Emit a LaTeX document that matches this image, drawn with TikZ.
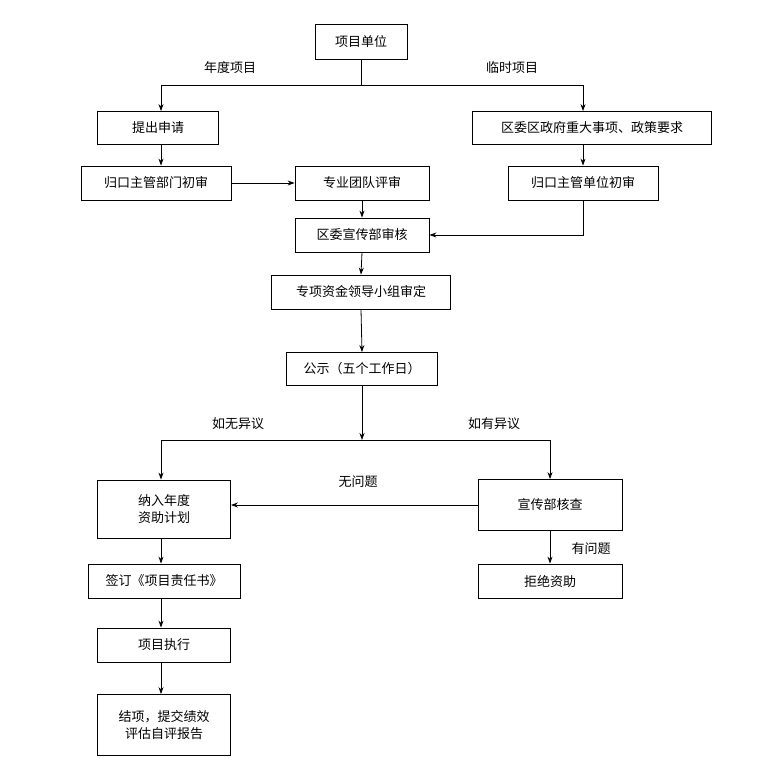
\documentclass[tikz,border=0pt]{standalone}
\usepackage{fontspec}
\setmainfont{Noto Sans CJK SC}
\usetikzlibrary{arrows.meta}
\tikzset{
  box/.style={draw, line width=0.8pt, inner sep=0pt, font=\fontsize{13}{17}\selectfont, align=center},
  flow/.style={draw, line width=0.8pt, -{Stealth[length=7pt,width=5pt]}},
  lbl/.style={font=\fontsize{13}{15}\selectfont}
}
\begin{document}
\begin{tikzpicture}[x=1pt,y=-1pt]
    \useasboundingbox (0,0) rectangle (768,776);

    % Top boxes
    \node[box, minimum width=92pt, minimum height=35pt] (unit) at (361,42) {项目单位};
    \node[box, minimum width=121pt, minimum height=33pt] (apply) at (158,128) {提出申请};
    \node[box, minimum width=239pt, minimum height=33pt] (gov) at (592,128) {区委区政府重大事项、政策要求};
    \node[box, minimum width=150pt, minimum height=34pt] (dept) at (156,183) {归口主管部门初审};
    \node[box, minimum width=134pt, minimum height=34pt] (team) at (362,183) {专业团队评审};
    \node[box, minimum width=150pt, minimum height=34pt] (udept) at (583,183) {归口主管单位初审};
    \node[box, minimum width=134pt, minimum height=34pt] (audit) at (362,235) {区委宣传部审核};
    \node[box, minimum width=179pt, minimum height=34pt] (group) at (361,292) {专项资金领导小组审定};
    \node[box, minimum width=151pt, minimum height=33pt] (pub) at (362,369) {公示（五个工作日）};

    % Lower boxes
    \node[box, minimum width=133pt, minimum height=58pt] (plan) at (164,509) {纳入年度\\资助计划};
    \node[box, minimum width=144pt, minimum height=51pt] (check) at (550,505) {宣传部核查};
    \node[box, minimum width=152pt, minimum height=34pt] (sign) at (164,581) {签订《项目责任书》};
    \node[box, minimum width=144pt, minimum height=34pt] (reject) at (550,581) {拒绝资助};
    \node[box, minimum width=133pt, minimum height=34pt] (exec) at (164,645) {项目执行};
    \node[box, minimum width=133pt, minimum height=61pt] (final) at (164,725) {结项，提交绩效\\评估自评报告};

    % Split after the unit
    \coordinate (s1) at (361,85);
    \coordinate (s1l) at (161,85);
    \coordinate (s1r) at (583,85);
    \draw[line width=0.8pt] (unit.south) -- (s1) (s1l) -- (s1r);
    \draw[flow] (s1l) -- (s1l |- apply.north);
    \draw[flow] (s1r) -- (s1r |- gov.north);
    \node[lbl] at (230,68) {年度项目};
    \node[lbl] at (512,68) {临时项目};

    % Review chain
    \draw[flow] (s1l |- apply.south) -- (s1l |- dept.north);
    \draw[flow] (dept.east) -- (team.west);
    \draw[flow] (s1r |- gov.south) -- (s1r |- udept.north);
    \draw[flow] (team.south) -- (audit.north);
    \draw[flow] (udept.south -| s1r) |- (audit.east);
    \draw[flow] (audit.south) -- (group.north);
    \draw[flow] (group.south) -- (pub.north);

    % Split after the notice
    \coordinate (s2) at (362,440);
    \coordinate (s2l) at (161,440);
    \coordinate (s2r) at (550,440);
    \draw[flow] (pub.south) -- (s2);
    \draw[line width=0.8pt] (s2l) -- (s2r);
    \draw[flow] (s2l) -- (s2l |- plan.north);
    \draw[flow] (s2r) -- (check.north);
    \node[lbl] at (238,424) {如无异议};
    \node[lbl] at (494,424) {如有异议};

    % Check results
    \draw[flow] (check.west) -- (plan.east |- check.west);
    \node[lbl] at (358,482) {无问题};
    \draw[flow] (check.south) -- (reject.north);
    \node[lbl] at (591,549) {有问题};

    % Execution chain
    \draw[flow] (s2l |- plan.south) -- (s2l |- sign.north);
    \draw[flow] (s2l |- sign.south) -- (s2l |- exec.north);
    \draw[flow] (s2l |- exec.south) -- (s2l |- final.north);
\end{tikzpicture}
\end{document}
